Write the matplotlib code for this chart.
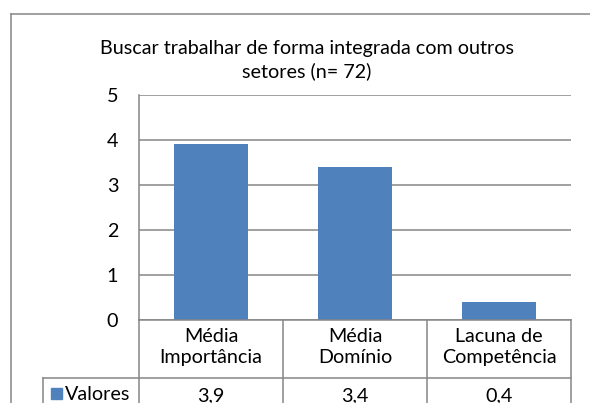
import matplotlib
matplotlib.use("Agg")
import matplotlib.pyplot as plt
from matplotlib.lines import Line2D

categories = ["Média\nImportância", "Média\nDomínio", "Lacuna de\nCompetência"]
valores = [3.9, 3.4, 0.4]
valores_txt = ["3,9", "3,4", "0,4"]
series_name = "Valores"
title = "Buscar trabalhar de forma integrada com outros\nsetores (n= 72)"

W, H = 590, 403
BLUE = "#4F81BD"
GRID = "#868686"
plt.rcParams["font.family"] = ["Lato", "DejaVu Sans"]
FS = 14.2

fig = plt.figure(figsize=(W / 100, H / 100), dpi=100)

def fx(px):
    return px / W

def fy(py):
    return 1 - py / H

def hline(x0, x1, y, **kw):
    fig.add_artist(Line2D([fx(x0), fx(x1)], [fy(y), fy(y)], color=GRID, lw=1.1, **kw))

def vline(x, y0, y1, **kw):
    fig.add_artist(Line2D([fx(x), fx(x)], [fy(y0), fy(y1)], color=GRID, lw=1.1, **kw))

# outer chart border
hline(11, W + 5, 14)
vline(11, 14, H + 5)

# plot area
left, right, top, bottom = 139, 571, 95, 320
ax = fig.add_axes([fx(left), fy(bottom), fx(right - left), (bottom - top) / H])
x = list(range(len(categories)))
ax.bar(x, valores, width=0.51, color=BLUE, zorder=3)
ax.set_xlim(-0.5, len(categories) - 0.5)
ax.set_ylim(0, 5)
ax.set_yticks(range(6))
ax.grid(axis="y", color=GRID, lw=1.1)
ax.set_xticks([])
for s in ["top", "right", "bottom"]:
    ax.spines[s].set_visible(False)
ax.spines["left"].set_color(GRID)
ax.spines["left"].set_linewidth(1.1)
ax.tick_params(axis="y", length=0, pad=15, labelsize=FS)

fig.text(fx(307), fy(60), title, ha="center", va="center", fontsize=FS,
         linespacing=1.35)

# data table
cell_w = (right - left) / len(categories)
row1_bottom = 378
vline(left, bottom, H + 5)
for i in range(len(categories)):
    xr = left + cell_w * (i + 1)
    vline(xr, bottom, H + 5)
hline(left, right, bottom)
hline(43, right, row1_bottom)
vline(43, row1_bottom, H + 5)

for i, cat in enumerate(categories):
    xc = left + cell_w * (i + 0.5)
    fig.text(fx(xc), fy(347), cat, ha="center", va="center", fontsize=FS,
             linespacing=1.25)
    fig.text(fx(xc), fy(396), valores_txt[i], ha="center", va="center", fontsize=FS)

fig.add_artist(plt.Rectangle((fx(51), fy(399)), fx(11), 11 / H, color=BLUE))
fig.text(fx(65), fy(395), series_name, ha="left", va="center", fontsize=FS)

plt.savefig("out.png", dpi=100)
